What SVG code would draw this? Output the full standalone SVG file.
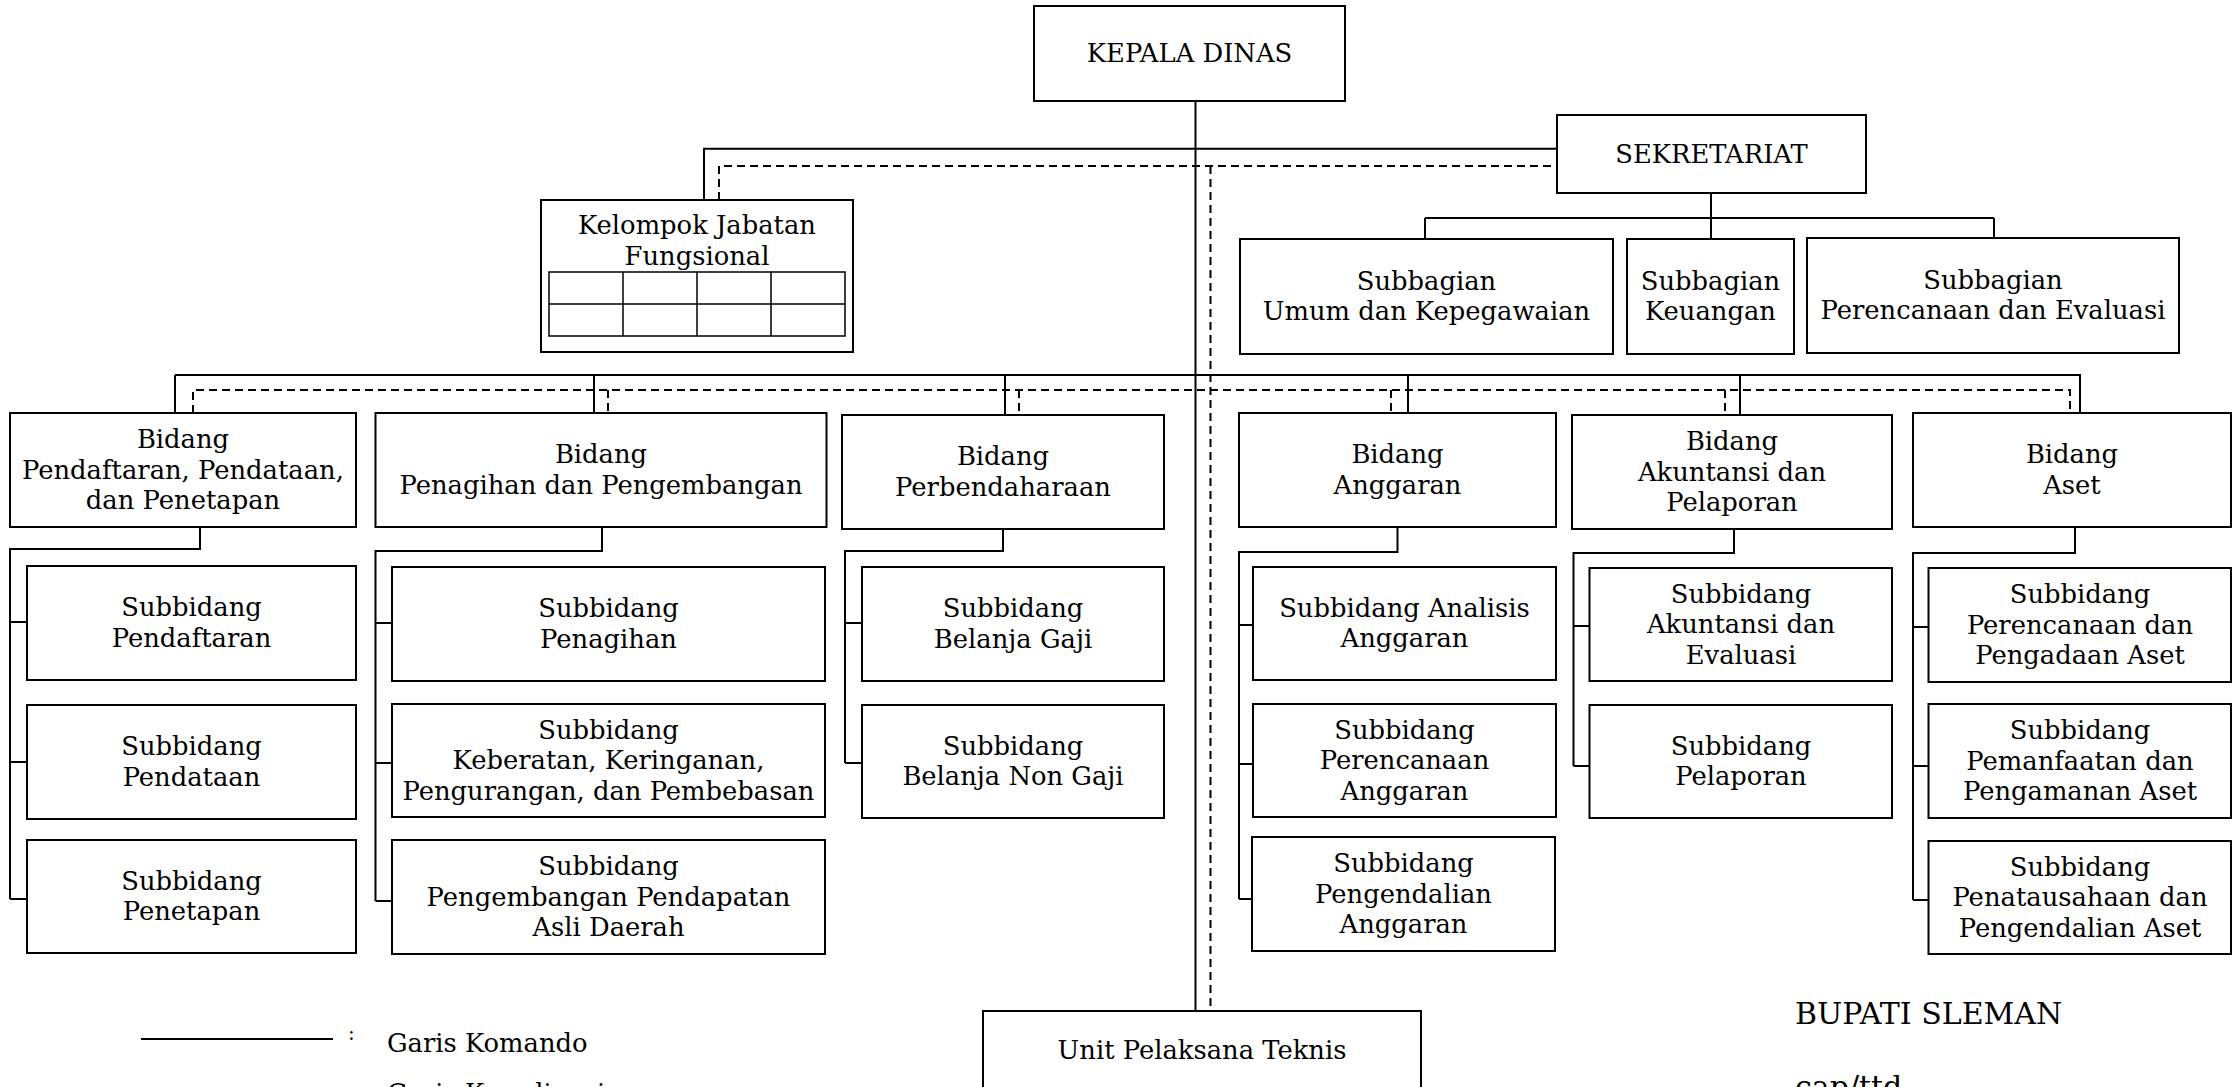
<svg xmlns="http://www.w3.org/2000/svg" width="2237" height="1087" viewBox="0 0 2237 1087">
<style>
  .box { fill: #ffffff; stroke: #000000; stroke-width: 2; }
  .ln { fill: none; stroke: #000000; stroke-width: 2; }
  .dash { fill: none; stroke: #000000; stroke-width: 2; stroke-dasharray: 8 5; }
  .grid { fill: none; stroke: #000000; stroke-width: 1.5; }
  text { font-family: "DejaVu Serif", "Liberation Serif", serif; font-size: 25.8px; fill: #000000; }
  .c { text-anchor: middle; }
  .big { font-size: 30px; }
</style>
<rect x="0" y="0" width="2237" height="1087" fill="#ffffff"/>

<g id="connectors">
  <!-- command lines -->
  <path class="ln" d="M1195.5,94 V1011"/>
  <path class="ln" d="M704,200 V148.7 H1557"/>
  <path class="ln" d="M1711,193 V218 M1425,218 H1994 M1425,218 V239 M1711,218 V239 M1994,218 V239"/>
  <path class="ln" d="M175,375 H2081 M175,375 V413 M594,375 V413 M1005,375 V415 M1408,375 V413 M1740,375 V415 M2080,375 V413"/>
  <path class="ln" d="M200,527 V549 H10 V899 M10,622 H27 M10,762 H27 M10,899 H27"/>
  <path class="ln" d="M602,527 V551 H375.5 V901 M375.5,623 H392 M375.5,763 H392 M375.5,901 H392"/>
  <path class="ln" d="M1003,529 V551 H845 V763 M845,623 H862 M845,763 H862"/>
  <path class="ln" d="M1397.5,527 V552 H1239 V899 M1239,625 H1253 M1239,764 H1253 M1239,899 H1252"/>
  <path class="ln" d="M1734,529 V553 H1573.5 V766 M1573.5,626 H1589.5 M1573.5,766 H1589.5"/>
  <path class="ln" d="M2075,527 V553 H1913 V900 M1913,627 H1928.5 M1913,766 H1928.5 M1913,900 H1928.5"/>
  <!-- coordination lines -->
  <path class="dash" d="M719,200 V166 H1557"/>
  <path class="dash" d="M1210.5,166 V1011"/>
  <path class="dash" d="M193,413 V390 H2070 V413 M608,390 V413 M1019,390 V415 M1391,390 V413 M1725,390 V415"/>
</g>

<g id="kepala-dinas">
  <rect class="box" x="1034" y="6" width="311" height="95"/>
  <text class="c" x="1189.5" y="62">KEPALA DINAS</text>
</g>

<g id="sekretariat">
  <rect class="box" x="1557" y="115" width="309" height="78"/>
  <text class="c" x="1711.5" y="162.5">SEKRETARIAT</text>
</g>

<g id="kelompok-jabatan-fungsional">
  <rect class="box" x="541" y="200" width="312" height="152"/>
  <text class="c" x="697" y="234">Kelompok Jabatan</text>
  <text class="c" x="697" y="265">Fungsional</text>
  <path class="grid" d="M549,272 H845 V336 H549 Z M549,304 H845 M623,272 V336 M697,272 V336 M771,272 V336"/>
</g>

<g id="subbagian-umum">
  <rect class="box" x="1240" y="239" width="373" height="115"/>
  <text class="c" x="1426.5" y="289.75">Subbagian</text>
  <text class="c" x="1426.5" y="320.25">Umum dan Kepegawaian</text>
</g>
<g id="subbagian-keuangan">
  <rect class="box" x="1627" y="239" width="167" height="115"/>
  <text class="c" x="1710.5" y="289.75">Subbagian</text>
  <text class="c" x="1710.5" y="320.25">Keuangan</text>
</g>
<g id="subbagian-perencanaan">
  <rect class="box" x="1807" y="238" width="372" height="115"/>
  <text class="c" x="1993" y="288.75">Subbagian</text>
  <text class="c" x="1993" y="319.25">Perencanaan dan Evaluasi</text>
</g>

<g id="bidang-pendaftaran">
  <rect class="box" x="10" y="413" width="346" height="114"/>
  <text class="c" x="183" y="448">Bidang</text>
  <text class="c" x="183" y="478.5">Pendaftaran, Pendataan,</text>
  <text class="c" x="183" y="509">dan Penetapan</text>
</g>
<g id="bidang-penagihan">
  <rect class="box" x="375.5" y="413" width="451" height="114"/>
  <text class="c" x="601" y="463.25">Bidang</text>
  <text class="c" x="601" y="493.75">Penagihan dan Pengembangan</text>
</g>
<g id="bidang-perbendaharaan">
  <rect class="box" x="842" y="415" width="322" height="114"/>
  <text class="c" x="1003" y="465.25">Bidang</text>
  <text class="c" x="1003" y="495.75">Perbendaharaan</text>
</g>
<g id="bidang-anggaran">
  <rect class="box" x="1239" y="413" width="317" height="114"/>
  <text class="c" x="1397.5" y="463.25">Bidang</text>
  <text class="c" x="1397.5" y="493.75">Anggaran</text>
</g>
<g id="bidang-akuntansi">
  <rect class="box" x="1572" y="415" width="320" height="114"/>
  <text class="c" x="1732" y="450">Bidang</text>
  <text class="c" x="1732" y="480.5">Akuntansi dan</text>
  <text class="c" x="1732" y="511">Pelaporan</text>
</g>
<g id="bidang-aset">
  <rect class="box" x="1913" y="413" width="318" height="114"/>
  <text class="c" x="2072" y="463.25">Bidang</text>
  <text class="c" x="2072" y="493.75">Aset</text>
</g>

<g id="subbidang-pendaftaran">
  <rect class="box" x="27" y="566" width="329" height="114"/>
  <text class="c" x="191.5" y="616.25">Subbidang</text>
  <text class="c" x="191.5" y="646.75">Pendaftaran</text>
</g>
<g id="subbidang-pendataan">
  <rect class="box" x="27" y="705" width="329" height="114"/>
  <text class="c" x="191.5" y="755.25">Subbidang</text>
  <text class="c" x="191.5" y="785.75">Pendataan</text>
</g>
<g id="subbidang-penetapan">
  <rect class="box" x="27" y="840" width="329" height="113"/>
  <text class="c" x="191.5" y="889.75">Subbidang</text>
  <text class="c" x="191.5" y="920.25">Penetapan</text>
</g>

<g id="subbidang-penagihan">
  <rect class="box" x="392" y="567" width="433" height="114"/>
  <text class="c" x="608.5" y="617.25">Subbidang</text>
  <text class="c" x="608.5" y="647.75">Penagihan</text>
</g>
<g id="subbidang-keberatan">
  <rect class="box" x="392" y="704" width="433" height="113"/>
  <text class="c" x="608.5" y="738.5">Subbidang</text>
  <text class="c" x="608.5" y="769">Keberatan, Keringanan,</text>
  <text class="c" x="608.5" y="799.5">Pengurangan, dan Pembebasan</text>
</g>
<g id="subbidang-pengembangan-pad">
  <rect class="box" x="392" y="840" width="433" height="114"/>
  <text class="c" x="608.5" y="875">Subbidang</text>
  <text class="c" x="608.5" y="905.5">Pengembangan Pendapatan</text>
  <text class="c" x="608.5" y="936">Asli Daerah</text>
</g>

<g id="subbidang-belanja-gaji">
  <rect class="box" x="862" y="567" width="302" height="114"/>
  <text class="c" x="1013" y="617.25">Subbidang</text>
  <text class="c" x="1013" y="647.75">Belanja Gaji</text>
</g>
<g id="subbidang-belanja-non-gaji">
  <rect class="box" x="862" y="705" width="302" height="113"/>
  <text class="c" x="1013" y="754.75">Subbidang</text>
  <text class="c" x="1013" y="785.25">Belanja Non Gaji</text>
</g>

<g id="subbidang-analisis-anggaran">
  <rect class="box" x="1253" y="567" width="303" height="113"/>
  <text class="c" x="1404.5" y="616.75">Subbidang Analisis</text>
  <text class="c" x="1404.5" y="647.25">Anggaran</text>
</g>
<g id="subbidang-perencanaan-anggaran">
  <rect class="box" x="1253" y="704" width="303" height="113"/>
  <text class="c" x="1404.5" y="738.5">Subbidang</text>
  <text class="c" x="1404.5" y="769">Perencanaan</text>
  <text class="c" x="1404.5" y="799.5">Anggaran</text>
</g>
<g id="subbidang-pengendalian-anggaran">
  <rect class="box" x="1252" y="837" width="303" height="114"/>
  <text class="c" x="1403.5" y="872">Subbidang</text>
  <text class="c" x="1403.5" y="902.5">Pengendalian</text>
  <text class="c" x="1403.5" y="933">Anggaran</text>
</g>

<g id="subbidang-akuntansi-evaluasi">
  <rect class="box" x="1589.5" y="568" width="302.5" height="113"/>
  <text class="c" x="1741" y="602.5">Subbidang</text>
  <text class="c" x="1741" y="633">Akuntansi dan</text>
  <text class="c" x="1741" y="663.5">Evaluasi</text>
</g>
<g id="subbidang-pelaporan">
  <rect class="box" x="1589.5" y="705" width="302.5" height="113"/>
  <text class="c" x="1741" y="754.75">Subbidang</text>
  <text class="c" x="1741" y="785.25">Pelaporan</text>
</g>

<g id="subbidang-perencanaan-aset">
  <rect class="box" x="1928.5" y="568" width="302.5" height="114"/>
  <text class="c" x="2080" y="603">Subbidang</text>
  <text class="c" x="2080" y="633.5">Perencanaan dan</text>
  <text class="c" x="2080" y="664">Pengadaan Aset</text>
</g>
<g id="subbidang-pemanfaatan-aset">
  <rect class="box" x="1928.5" y="704" width="302.5" height="114"/>
  <text class="c" x="2080" y="739">Subbidang</text>
  <text class="c" x="2080" y="769.5">Pemanfaatan dan</text>
  <text class="c" x="2080" y="800">Pengamanan Aset</text>
</g>
<g id="subbidang-penatausahaan-aset">
  <rect class="box" x="1928.5" y="841" width="302.5" height="113"/>
  <text class="c" x="2080" y="875.5">Subbidang</text>
  <text class="c" x="2080" y="906">Penatausahaan dan</text>
  <text class="c" x="2080" y="936.5">Pengendalian Aset</text>
</g>

<g id="upt">
  <rect class="box" x="983" y="1011" width="438" height="110"/>
  <text class="c" x="1202" y="1059">Unit Pelaksana Teknis</text>
</g>

<g id="legend">
  <line class="ln" x1="141" y1="1039" x2="333" y2="1039"/>
  <text x="348" y="1040" style="font-size:20px">:</text>
  <text x="387" y="1052">Garis Komando</text>
  <text x="387" y="1102">Garis Koordinasi</text>
</g>

<g id="signature">
  <text class="big" x="1795" y="1024">BUPATI SLEMAN</text>
  <text class="big" x="1795" y="1097">cap/ttd</text>
</g>
</svg>
